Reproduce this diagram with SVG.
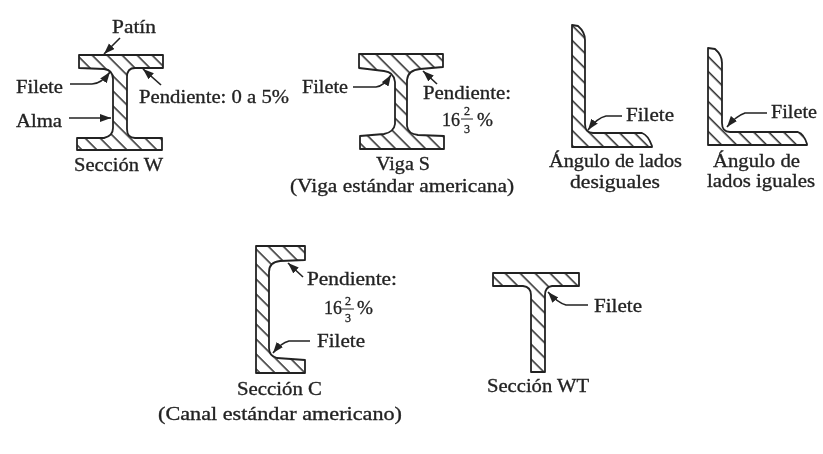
<svg xmlns="http://www.w3.org/2000/svg" width="823" height="454" viewBox="0 0 823 454">
<style>
.s{fill:url(#h);stroke:#222;stroke-width:1.8;stroke-linejoin:round}
.c{fill:none;stroke:#222;stroke-width:1.6;marker-end:url(#a)}
text{font-family:"Liberation Serif","Times New Roman",serif;font-size:18px;fill:#222;stroke:#222;stroke-width:0.3}
.f{font-size:12px;text-anchor:middle}
.b{stroke:#222;stroke-width:1}
</style>
<defs>
<pattern id="h" width="10.6" height="10.6" patternUnits="userSpaceOnUse" patternTransform="rotate(-45)">
<rect width="10.6" height="10.6" fill="#fff"/>
<line x1="5" y1="0" x2="5" y2="10.6" stroke="#333" stroke-width="1.6"/>
</pattern>
<marker id="a" markerUnits="userSpaceOnUse" markerWidth="13" markerHeight="9" refX="11" refY="4" orient="auto">
<path d="M0,0 L11,4 L0,8 Z" fill="#222"/>
</marker>
<filter id="b" x="0" y="0" width="100%" height="100%"><feGaussianBlur stdDeviation="0.55"/></filter>
</defs>
<rect width="823" height="454" fill="#fff"/>
<g filter="url(#b)">
<g id="seccion-w">
<path class="s" d="M79,55 H163 V68 H135 Q127,68 127,77 V129 Q127,138 135,138 H162 V150 H77 V138 H104 Q113,136 113,128 V79 Q113,70 104,69 L79,68 Z"/>
<text x="112" y="33" textLength="44" lengthAdjust="spacingAndGlyphs">Patín</text>
<text x="16" y="93" textLength="47" lengthAdjust="spacingAndGlyphs">Filete</text>
<text x="16" y="127" textLength="46" lengthAdjust="spacingAndGlyphs">Alma</text>
<text x="139" y="103" textLength="150" lengthAdjust="spacingAndGlyphs">Pendiente: 0 a 5%</text>
<text x="74" y="171" textLength="89" lengthAdjust="spacingAndGlyphs">Sección W</text>
</g>
<g id="viga-s">
<path class="s" d="M359,54 H443 V67 L420,69 Q408,70 407,80 V126 Q408,134 418,135 L444,136 V149 H360 V136 L384,134 Q394,132 395,124 V82 Q394,72 384,71 L359,68 Z"/>
<text x="302" y="93" textLength="46" lengthAdjust="spacingAndGlyphs">Filete</text>
<text x="423" y="99" textLength="88" lengthAdjust="spacingAndGlyphs">Pendiente:</text>
<text x="442" y="126" textLength="18" lengthAdjust="spacingAndGlyphs">16</text>
<text class="f" x="467" y="115">2</text>
<line class="b" x1="461" y1="119" x2="473" y2="119"/>
<text class="f" x="467" y="133">3</text>
<text x="477" y="126" textLength="16" lengthAdjust="spacingAndGlyphs">%</text>
<text x="376" y="170" textLength="54" lengthAdjust="spacingAndGlyphs">Viga S</text>
<text x="290" y="192" textLength="224" lengthAdjust="spacingAndGlyphs">(Viga estándar americana)</text>
</g>
<g id="angulo-desiguales">
<path class="s" d="M572,25 L578,26 Q585,32 585,40 V124 Q585,133 593,133 H642 Q648,135 652,146 V147 H572 Z"/>
<text x="626" y="121" textLength="48" lengthAdjust="spacingAndGlyphs">Filete</text>
<text x="549" y="167" textLength="133" lengthAdjust="spacingAndGlyphs">Ángulo de lados</text>
<text x="570" y="188" textLength="90" lengthAdjust="spacingAndGlyphs">desiguales</text>
</g>
<g id="angulo-iguales">
<path class="s" d="M708,48 L715,49 Q722,55 722,63 V123 Q722,132 730,132 H798 Q804,134 807,144 V145 H708 Z"/>
<text x="771" y="118" textLength="46" lengthAdjust="spacingAndGlyphs">Filete</text>
<text x="713" y="167" textLength="87" lengthAdjust="spacingAndGlyphs">Ángulo de</text>
<text x="707" y="187" textLength="108" lengthAdjust="spacingAndGlyphs">lados iguales</text>
</g>
<g id="seccion-c">
<path class="s" d="M256,246 H305 V260 L280,261 Q269,262 269,272 V348 Q269,356 277,358 L305,360 V373 H256 Z"/>
<text x="307" y="285" textLength="90" lengthAdjust="spacingAndGlyphs">Pendiente:</text>
<text x="324" y="314" textLength="18" lengthAdjust="spacingAndGlyphs">16</text>
<text class="f" x="348" y="305">2</text>
<line class="b" x1="342" y1="309" x2="354" y2="309"/>
<text class="f" x="348" y="322">3</text>
<text x="357" y="314" textLength="16" lengthAdjust="spacingAndGlyphs">%</text>
<text x="317" y="347" textLength="48" lengthAdjust="spacingAndGlyphs">Filete</text>
<text x="237" y="395" textLength="85" lengthAdjust="spacingAndGlyphs">Sección C</text>
<text x="158" y="420" textLength="244" lengthAdjust="spacingAndGlyphs">(Canal estándar americano)</text>
</g>
<g id="seccion-wt">
<path class="s" d="M493,273 H579 V286 H552 Q545,287 545,295 V372 H531 V295 Q531,287 523,286 H493 Z"/>
<text x="594" y="312" textLength="48" lengthAdjust="spacingAndGlyphs">Filete</text>
<text x="487" y="392" textLength="102" lengthAdjust="spacingAndGlyphs">Sección WT</text>
</g>
<g id="connectors">
<path class="c" d="M120,38 L104,54"/>
<path class="c" d="M70,84 H92 Q101,84 110,72"/>
<path class="c" d="M69,118 H111"/>
<path class="c" d="M161,85 L143,69"/>
<path class="c" d="M353,87 H376 Q384,86 391,75"/>
<path class="c" d="M437,84 L423,71"/>
<path class="c" d="M622,116 H606 Q597,118 588,130"/>
<path class="c" d="M767,113 H745 Q736,116 727,127"/>
<path class="c" d="M303,277 L288,263"/>
<path class="c" d="M310,341 H289 Q281,343 273,353"/>
<path class="c" d="M588,305 H566 Q558,303 548,292"/>
</g>
</g>
</svg>
